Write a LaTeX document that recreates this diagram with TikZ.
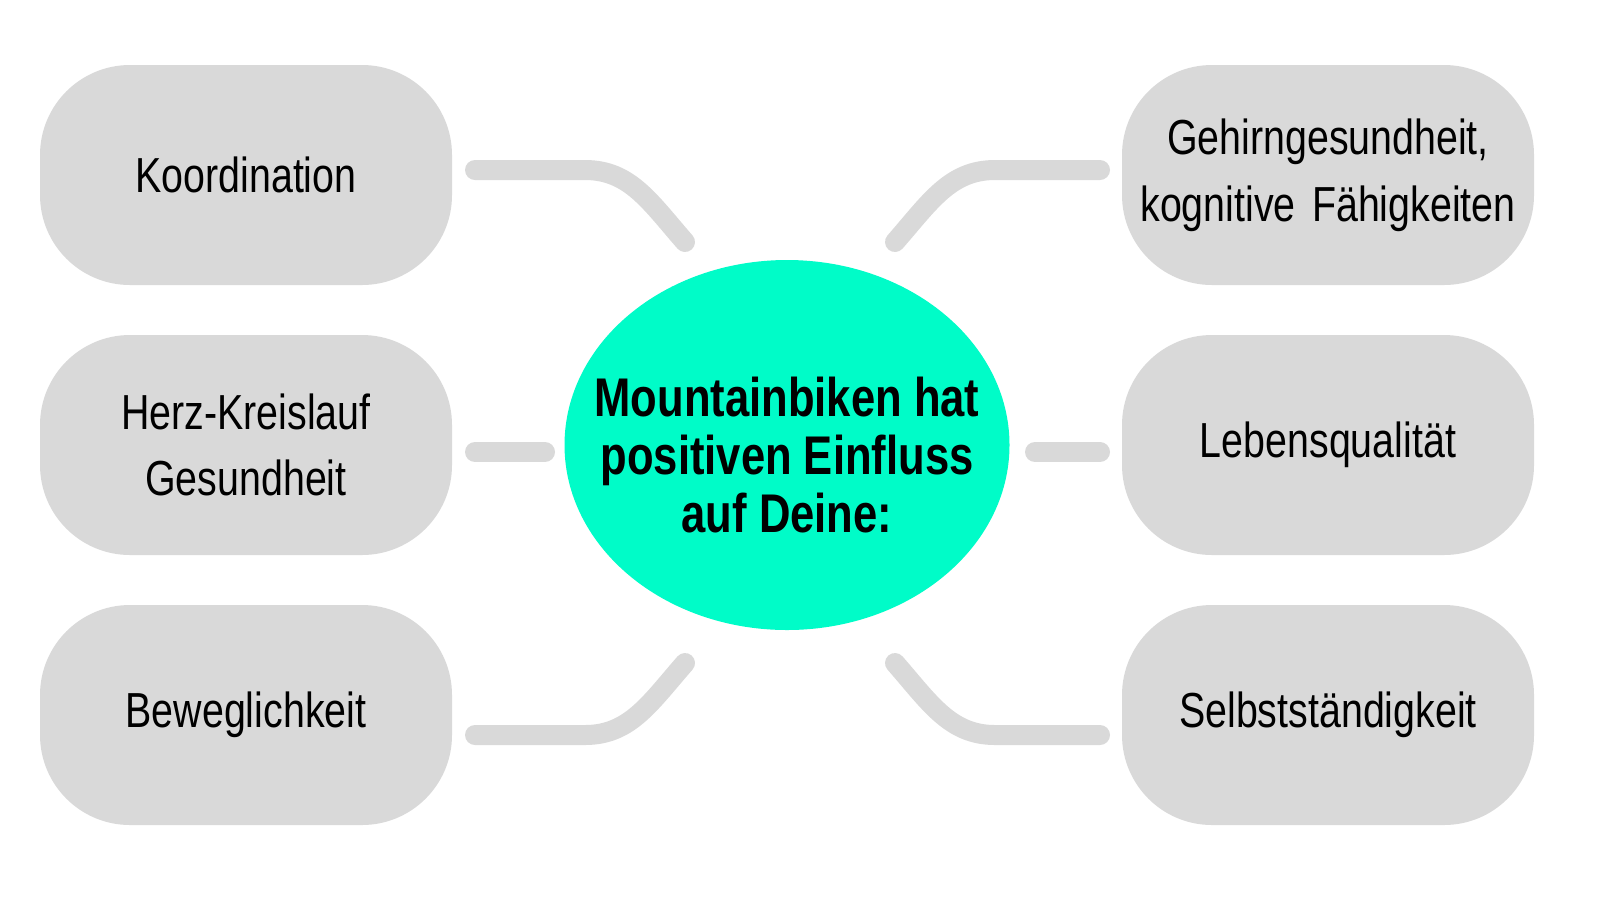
\documentclass[tikz,border=0pt]{standalone}
\usepackage{fontspec}
\setmainfont[FakeStretch=0.8]{Liberation Sans}
\usetikzlibrary{shapes.geometric}
\definecolor{blobgray}{HTML}{D9D9D9}
\definecolor{teal}{HTML}{00FCC8}
\begin{document}
\begin{tikzpicture}[y=-1cm,
  box/.style={fill=blobgray, rounded corners=0.9cm, minimum width=4.12cm, minimum height=2.2cm, text width=3.9cm, inner sep=0pt, align=center, font=\fontsize{14}{19}\selectfont},
  link/.style={draw=blobgray, line width=0.2cm, line cap=round}]
\useasboundingbox (0,0) rectangle (16,9);
\node[box] (a) at (2.46,1.75) {Koordination};
\node[box] (b) at (2.46,4.45) {Herz-Kreislauf\\Gesundheit};
\node[box] (c) at (2.46,7.15) {Beweglichkeit};
\node[box] (d) at (13.28,1.75) {Gehirngesundheit,\\kognitive Fähigkeiten};
\node[box] (e) at (13.28,4.45) {Lebensqualität};
\node[box] (f) at (13.28,7.15) {Selbstständigkeit};
\node[ellipse, fill=teal, minimum width=4.45cm, minimum height=3.7cm, inner sep=0pt] (m) at (7.87,4.45) {};
\node[align=center, font=\bfseries\fontsize{15.5}{16.5}\selectfont] (mt) at (7.87,4.55) {Mountainbiken hat\\positiven Einfluss\\auf Deine:};
\coordinate (a1) at (4.75,1.7); \coordinate (a2) at (6.85,2.42);
\coordinate (b1) at (4.75,4.52); \coordinate (b2) at (5.45,4.52);
\coordinate (c1) at (4.75,7.35); \coordinate (c2) at (6.85,6.63);
\coordinate (d1) at (11.0,1.7); \coordinate (d2) at (8.95,2.42);
\coordinate (e1) at (11.0,4.52); \coordinate (e2) at (10.35,4.52);
\coordinate (f1) at (11.0,7.35); \coordinate (f2) at (8.95,6.63);
\draw[link] (a1) -- (5.85,1.7) .. controls (6.3,1.7) and (6.5,2.02) .. (a2);
\draw[link] (b1) -- (b2);
\draw[link] (c1) -- (5.85,7.35) .. controls (6.3,7.35) and (6.5,7.03) .. (c2);
\draw[link] (d1) -- (9.95,1.7) .. controls (9.5,1.7) and (9.3,2.02) .. (d2);
\draw[link] (e1) -- (e2);
\draw[link] (f1) -- (9.95,7.35) .. controls (9.5,7.35) and (9.3,7.03) .. (f2);
\end{tikzpicture}
\end{document}
